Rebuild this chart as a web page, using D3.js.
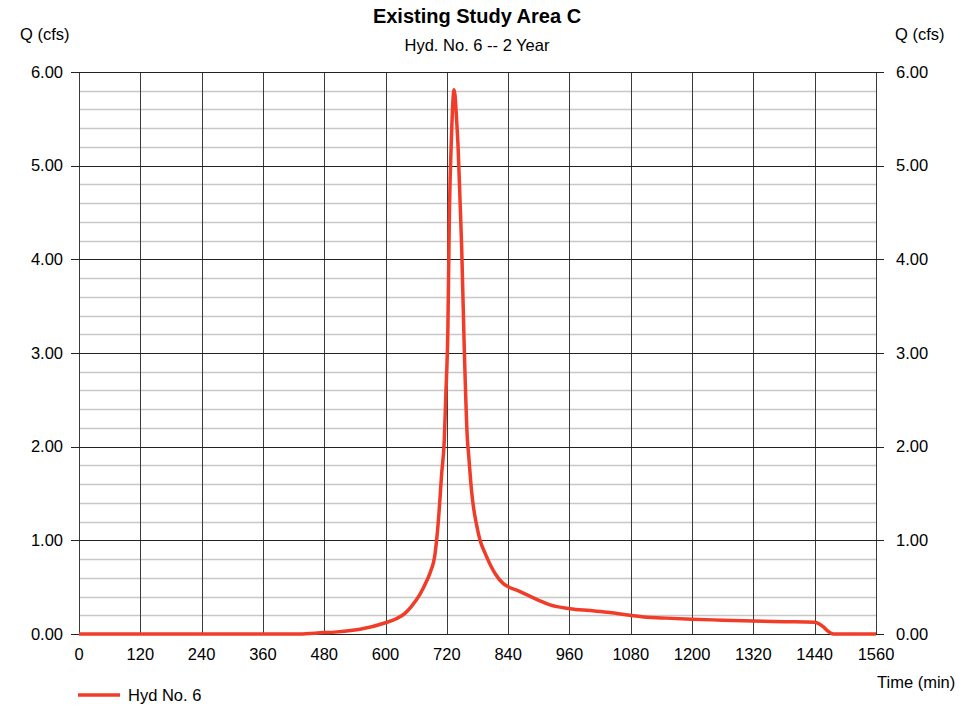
<!DOCTYPE html>
<html>
<head>
<meta charset="utf-8">
<script src="https://cdn.jsdelivr.net/npm/d3@7"></script>
<style>
  body { margin: 0; background: #fff; }
  text { font-family: "Liberation Sans", Arial, sans-serif; fill: #000; }
</style>
</head>
<body>
<svg id="chart" width="972" height="707"></svg>
<script>
// Hydrograph data (time in min, flow in cfs)
const timeMin = [0, 120, 240, 360, 432, 480, 500, 550, 600, 620, 638, 650, 667, 680, 687, 697, 703, 710, 715, 718, 722, 725, 729, 732, 734, 736, 739, 742, 746, 749, 754, 760, 763, 768, 772, 778, 785, 795, 804, 815, 830, 840, 860, 876, 900, 922, 961, 1000, 1039, 1078, 1111, 1140, 1200, 1260, 1320, 1380, 1440, 1446, 1457, 1466, 1472, 1476, 1500, 1560];
const flowCfs = [0, 0, 0, 0, 0, 0.015, 0.02, 0.05, 0.12, 0.16, 0.22, 0.29, 0.42, 0.56, 0.65, 0.86, 1.18, 1.72, 2.07, 2.55, 3.25, 4.49, 5.3, 5.7, 5.81, 5.75, 5.5, 5.2, 4.6, 4.13, 3.07, 2.1, 1.89, 1.55, 1.36, 1.17, 1.0, 0.86, 0.75, 0.64, 0.54, 0.505, 0.46, 0.42, 0.36, 0.31, 0.27, 0.25, 0.23, 0.2, 0.18, 0.172, 0.157, 0.148, 0.139, 0.132, 0.125, 0.115, 0.075, 0.03, 0.008, 0, 0, 0];

const xTicks = [0, 120, 240, 360, 480, 600, 720, 840, 960, 1080, 1200, 1320, 1440, 1560];
const yMajor = [0, 1, 2, 3, 4, 5, 6];
const yMinor = d3.range(0, 6.001, 0.2).filter(v => Math.abs(v - Math.round(v)) > 0.01);

const title = "Existing Study Area C";
const subtitle = "Hyd. No. 6 -- 2 Year";
const seriesName = "Hyd No. 6";

const margin = { top: 72, right: 96, bottom: 73, left: 79 };
const width = 972 - margin.left - margin.right;
const height = 707 - margin.top - margin.bottom;

const fs = "16.5px";

const svg = d3.select("#chart");
const g = svg.append("g")
    .attr("transform", "translate(" + margin.left + "," + margin.top + ")");

const x = d3.scaleLinear().domain([0, 1560]).range([0, width]);
const y = d3.scaleLinear().domain([0, 6]).range([height, 0]);

// Minor horizontal grid
g.selectAll(".minor")
    .data(yMinor)
    .enter().append("line")
    .attr("x1", 0).attr("x2", width)
    .attr("y1", d => Math.round(y(d)) + 0.5)
    .attr("y2", d => Math.round(y(d)) + 0.5)
    .attr("stroke", "#c8c8c8")
    .attr("stroke-width", 1.5);

// Vertical grid
g.selectAll(".vgrid")
    .data(xTicks)
    .enter().append("line")
    .attr("x1", d => Math.round(x(d)) + 0.5)
    .attr("x2", d => Math.round(x(d)) + 0.5)
    .attr("y1", 0).attr("y2", height)
    .attr("stroke", "#3a3a3a")
    .attr("stroke-width", 1);

// Major horizontal grid with outside ticks on both sides
g.selectAll(".major")
    .data(yMajor)
    .enter().append("line")
    .attr("x1", -8).attr("x2", width + 8)
    .attr("y1", d => Math.round(y(d)) + 0.5)
    .attr("y2", d => Math.round(y(d)) + 0.5)
    .attr("stroke", "#222")
    .attr("stroke-width", 1);

// Left axis labels
g.selectAll(".ylabL")
    .data(yMajor)
    .enter().append("text")
    .attr("x", -16)
    .attr("y", d => y(d))
    .attr("dy", "0.35em")
    .attr("text-anchor", "end")
    .style("font-size", fs)
    .text(d => d.toFixed(2));

// Right axis labels
g.selectAll(".ylabR")
    .data(yMajor)
    .enter().append("text")
    .attr("x", width + 20)
    .attr("y", d => y(d))
    .attr("dy", "0.35em")
    .attr("text-anchor", "start")
    .style("font-size", fs)
    .text(d => d.toFixed(2));

// Bottom axis labels
g.selectAll(".xlab")
    .data(xTicks)
    .enter().append("text")
    .attr("x", d => x(d))
    .attr("y", height + 26)
    .attr("text-anchor", "middle")
    .style("font-size", fs)
    .text(d => d);

// Hydrograph line
const line = d3.line()
    .x((d, i) => x(timeMin[i]))
    .y(d => y(d))
    .curve(d3.curveMonotoneX);

g.append("path")
    .datum(flowCfs)
    .attr("fill", "none")
    .attr("stroke", "#f03c28")
    .attr("stroke-width", 3.5)
    .attr("stroke-linejoin", "round")
    .attr("d", line);

// Titles
svg.append("text")
    .attr("x", 477).attr("y", 23)
    .attr("text-anchor", "middle")
    .style("font-size", "20px").style("font-weight", "bold")
    .text(title);

svg.append("text")
    .attr("x", 477).attr("y", 51)
    .attr("text-anchor", "middle")
    .style("font-size", fs)
    .text(subtitle);

svg.append("text")
    .attr("x", 20).attr("y", 40)
    .style("font-size", fs)
    .text("Q (cfs)");

svg.append("text")
    .attr("x", 895).attr("y", 40)
    .style("font-size", fs)
    .text("Q (cfs)");

svg.append("text")
    .attr("x", 877).attr("y", 688)
    .style("font-size", fs)
    .text("Time (min)");

// Legend
svg.append("line")
    .attr("x1", 78).attr("x2", 120)
    .attr("y1", 695).attr("y2", 695)
    .attr("stroke", "#f03c28")
    .attr("stroke-width", 3.5);

svg.append("text")
    .attr("x", 128).attr("y", 701)
    .style("font-size", fs)
    .text(seriesName);
</script>
</body>
</html>
